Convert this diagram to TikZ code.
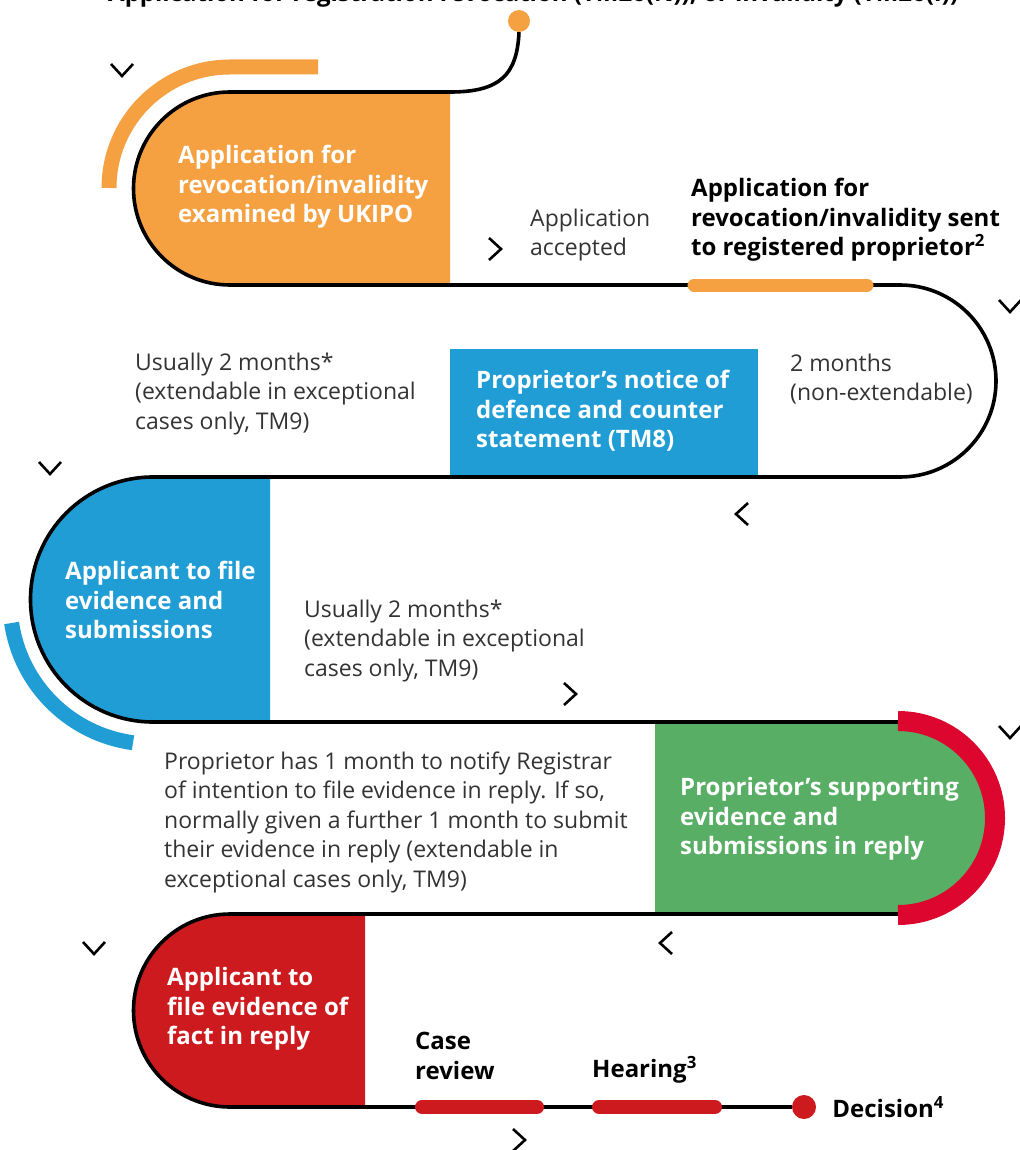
\documentclass[tikz,border=0pt]{standalone}
\usepackage{fontspec}
\setmainfont{Open Sans}
\usetikzlibrary{positioning}

\definecolor{ukorange}{HTML}{F5A142}
\definecolor{ukblue}{HTML}{219DD6}
\definecolor{ukgreen}{HTML}{58AE64}
\definecolor{ukred}{HTML}{CD1A1E}
\definecolor{ukcrimson}{HTML}{DC062E}
\definecolor{ukgrey}{HTML}{333333}

\tikzset{
  track/.style={line width=3.6pt, black},
  chev/.style={line width=2.6pt, black},
  trackdot/.style={circle, inner sep=0pt, minimum size=#1},
  boxtext/.style={text=white, font=\bfseries\fontsize{24}{29.5}\selectfont, align=left, anchor=west, inner sep=0pt},
  headtext/.style={text=black, font=\bfseries\fontsize{24}{29.5}\selectfont, align=left, anchor=west, inner sep=0pt},
  note/.style={text=ukgrey, font=\fontsize{23}{29.5}\selectfont, align=left, anchor=west, inner sep=0pt}
}

\begin{document}
\begin{tikzpicture}[x=1pt, y=-1pt]
\useasboundingbox (0,0) rectangle (1019,1150);

% coloured stages
\fill[ukorange] (450,92) -- (230,92) arc[start angle=270, end angle=90, radius=96.5] -- (450,285) -- cycle;
\fill[ukblue] (450,349) rectangle (758,477);
\fill[ukblue] (270,477) -- (153,477) arc[start angle=270, end angle=90, radius=122.5] -- (270,722) -- cycle;
\fill[ukgreen] (655,722) -- (898,722) arc[start angle=-90, end angle=90, radius=96] -- (655,914) -- cycle;
\fill[ukred] (365,914) -- (230,914) arc[start angle=270, end angle=90, radius=96.5] -- (365,1107) -- cycle;

% end points
\node[trackdot=22pt, fill=ukorange] (start) at (519,21) {};
\node[trackdot=24pt, fill=ukred] (end) at (804,1107) {};

% the track
\draw[track] (start.south) .. controls (517,75) and (500,92) .. (450,92) -- (230,92)
  arc[start angle=270, end angle=90, radius=96.5] -- (900,285)
  arc[start angle=-90, end angle=90, radius=96] -- (153,477)
  arc[start angle=270, end angle=90, radius=122.5] -- (898,722)
  arc[start angle=-90, end angle=90, radius=96] -- (230,914)
  arc[start angle=270, end angle=90, radius=96.5] -- (end.west);

% accents
\draw[ukorange, line width=15pt] (109,188) arc[start angle=180, end angle=270, radius=121] -- (318,67);
\draw[ukblue, line width=15pt] (11.6,623) arc[start angle=171.5, end angle=97.7, radius=142];
\draw[ukcrimson, line width=20pt] (898,721) arc[start angle=-90, end angle=90, radius=97];
\draw[ukorange, line width=13pt, line cap=round] (694,285) -- (867,285);
\draw[ukred, line width=14pt, line cap=round] (422,1107) -- (537,1107);
\draw[ukred, line width=14pt, line cap=round] (599,1107) -- (715,1107);

% chevrons
\foreach \x/\y in {122/70, 1010/306, 50/468, 1010/732, 94/948}
  \draw[chev] (\x-11,\y-6) -- (\x,\y+6) -- (\x+11,\y-6);
\foreach \x/\y in {495/249, 570/694, 519/1140}
  \draw[chev] (\x-6,\y-11) -- (\x+6,\y) -- (\x-6,\y+11);
\foreach \x/\y in {742/514, 666/943}
  \draw[chev] (\x+6,\y-11) -- (\x-6,\y) -- (\x+6,\y+11);

% texts
\node[headtext, anchor=base west] (title) at (108,1.5) {Application for registration revocation (TM26(N)), or invalidity (TM26(I))};
\node[boxtext] (examined) at (178,187) {Application for\\revocation/invalidity\\examined by UKIPO};
\node[note] (accepted) at (530,235) {Application\\accepted};
\node[headtext] (sent) at (691,220) {Application for\\revocation/invalidity sent\\to registered proprietor\textsuperscript{2}};
\node[note] (usual1) at (135,394) {Usually 2 months*\\(extendable in exceptional\\cases only, TM9)};
\node[boxtext] (defence) at (476,411) {Proprietor’s notice of\\defence and counter\\statement (TM8)};
\node[note] (fixed) at (790,379) {2 months\\(non-extendable)};
\node[boxtext] (evidence) at (65,600) {Applicant to file\\evidence and\\submissions};
\node[note] (usual2) at (304,641) {Usually 2 months*\\(extendable in exceptional\\cases only, TM9)};
\node[note] (notify) at (164,822) {Proprietor has 1 month to notify Registrar\\of intention to file evidence in reply. If so,\\normally given a further 1 month to submit\\their evidence in reply (extendable in\\exceptional cases only, TM9)};
\node[boxtext] (support) at (680,819) {Proprietor’s supporting\\evidence and\\submissions in reply};
\node[boxtext] (fact) at (167,1009) {Applicant to\\file evidence of\\fact in reply};
\node[headtext] (review) at (415,1056) {Case\\review};
\node[headtext] (hearing) at (592,1070) {Hearing\textsuperscript{3}};
\node[headtext, right=16pt of end] (decision) {Decision\textsuperscript{4}};

\end{tikzpicture}
\end{document}
